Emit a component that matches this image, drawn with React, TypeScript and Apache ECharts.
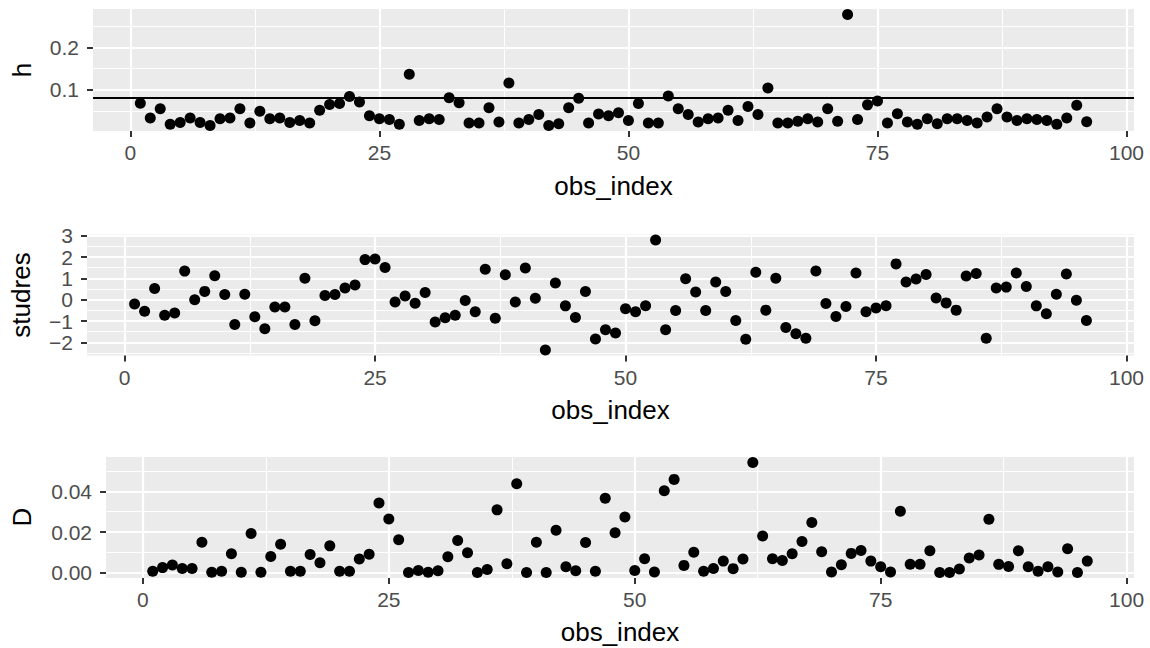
import React, { useEffect, useRef } from "react";
import * as echarts from "echarts";

const hValues = [
  0.068, 0.033, 0.055, 0.018, 0.022, 0.033, 0.022, 0.015, 0.031, 0.033,
  0.055, 0.021, 0.049, 0.031, 0.033, 0.022, 0.027, 0.021, 0.051, 0.065,
  0.067, 0.084, 0.071, 0.038, 0.031, 0.029, 0.018, 0.137, 0.027, 0.031,
  0.029, 0.081, 0.069, 0.021, 0.021, 0.057, 0.023, 0.116, 0.021, 0.029,
  0.041, 0.015, 0.019, 0.057, 0.080, 0.021, 0.042, 0.038, 0.045, 0.027,
  0.067, 0.021, 0.021, 0.085, 0.055, 0.041, 0.023, 0.031, 0.033, 0.051,
  0.027, 0.060, 0.041, 0.104, 0.021, 0.021, 0.025, 0.031, 0.023, 0.055,
  0.025, 0.279, 0.029, 0.064, 0.073, 0.021, 0.043, 0.023, 0.018, 0.031,
  0.019, 0.031, 0.031, 0.027, 0.021, 0.035, 0.055, 0.035, 0.027, 0.031,
  0.029, 0.027, 0.018, 0.033, 0.063, 0.024,
];

const studresValues = [
  -0.2, -0.54, 0.52, -0.73, -0.62, 1.34, 0.0, 0.39, 1.12, 0.24,
  -1.16, 0.25, -0.8, -1.36, -0.34, -0.34, -1.16, 1.01, -0.99, 0.2,
  0.24, 0.55, 0.69, 1.88, 1.91, 1.51, -0.11, 0.17, -0.17, 0.34,
  -1.05, -0.85, -0.73, -0.04, -0.57, 1.43, -0.87, 1.17, -0.11, 1.49,
  0.07, -2.36, 0.78, -0.29, -0.84, 0.38, -1.84, -1.41, -1.56, -0.42,
  -0.57, -0.28, 2.8, -1.41, -0.51, 0.98, 0.36, -0.51, 0.83, 0.38,
  -0.98, -1.86, 1.29, -0.49, 1.01, -1.3, -1.6, -1.81, 1.35, -0.18,
  -0.79, -0.32, 1.25, -0.57, -0.39, -0.28, 1.68, 0.83, 0.97, 1.18,
  0.08, -0.15, -0.49, 1.11, 1.23, -1.81, 0.55, 0.59, 1.25, 0.62,
  -0.29, -0.66, 0.25, 1.21, -0.03, -0.98,
];

const dValues = [
  0.0007, 0.0025, 0.0038, 0.0021, 0.0021, 0.015, 0.0002, 0.0007, 0.0093, 0.0002,
  0.0193, 0.0002, 0.008, 0.014, 0.0007, 0.0007, 0.009, 0.0049, 0.0132, 0.0007,
  0.0007, 0.0067, 0.0091, 0.0343, 0.0264, 0.0162, 0.0001, 0.0011, 0.0002, 0.001,
  0.0078, 0.0158, 0.0098, 0.0001, 0.0016, 0.0309, 0.0044, 0.0438, 0.0001, 0.015,
  0.0001, 0.0209, 0.0029, 0.001, 0.0149, 0.0007, 0.0366, 0.0196, 0.0274, 0.0011,
  0.0069, 0.0003, 0.0403, 0.0459, 0.0036, 0.0101, 0.0007, 0.0021, 0.0057, 0.002,
  0.0067, 0.0542, 0.018, 0.0069, 0.006, 0.0093, 0.0153, 0.0247, 0.0103, 0.0003,
  0.0039, 0.0095, 0.0109, 0.0057, 0.0029, 0.0003, 0.0302, 0.0042, 0.0042, 0.0108,
  0.0001, 0.0001, 0.0018, 0.0072, 0.0087, 0.0263, 0.0041, 0.0031, 0.0108, 0.0029,
  0.0007, 0.0029, 0.0003, 0.0118, 0.0001, 0.0057,
];

const obsIndex = hValues.map((_, i) => i + 1);

const xTicks = [0, 25, 50, 75, 100];
const xMinor = [12.5, 37.5, 62.5, 87.5];
const hTicks = [0.1, 0.2];
const hMinor = [0.05, 0.15, 0.25];
const sTicks = [-2, -1, 0, 1, 2, 3];
const sMinor = [-2.5, -1.5, -0.5, 0.5, 1.5, 2.5];
const dTicks = [0, 0.02, 0.04];
const dMinor = [0.01, 0.03, 0.05];
const hCutoff = 0.0833;

const xTitle = "obs_index";
const yTitles = ["h", "studres", "D"];

const FONT = "Liberation Sans, Arial, Helvetica, sans-serif";

function expand(vals: number[]): [number, number] {
  const mn = Math.min(...vals);
  const mx = Math.max(...vals);
  const r = mx - mn;
  return [mn - 0.05 * r, mx + 0.05 * r];
}

export default function App() {
  const ref = useRef<HTMLDivElement>(null);

  useEffect(() => {
    if (!ref.current) return;
    const chart = echarts.init(ref.current, null, { renderer: "svg" });

    const grids = [
      { left: 93, top: 9, width: 1041, height: 122 },
      { left: 87, top: 234.5, width: 1047, height: 121 },
      { left: 106, top: 457, width: 1028, height: 121 },
    ];
    const panels = [
      { vals: hValues, ticks: hTicks, minor: hMinor, fmt: (v: number) => v.toFixed(1) },
      {
        vals: studresValues,
        ticks: sTicks,
        minor: sMinor,
        fmt: (v: number) => (v < 0 ? "\u2212" + Math.abs(v) : String(v)),
      },
      { vals: dValues, ticks: dTicks, minor: dMinor, fmt: (v: number) => v.toFixed(2) },
    ];
    const xr = expand(obsIndex);

    const xAxis: any[] = [];
    const yAxis: any[] = [];
    const series: any[] = [];

    panels.forEach((p, i) => {
      const yr = expand(p.vals);
      xAxis.push({
        type: "value",
        gridIndex: i,
        position: "bottom",
        min: xr[0],
        max: xr[1],
        axisLine: { show: false, onZero: false },
        axisTick: {
          show: true,
          length: 6,
          customValues: xTicks,
          lineStyle: { color: "#333333", width: 2 },
        },
        axisLabel: {
          customValues: xTicks,
          color: "#4D4D4D",
          fontSize: 21,
          fontFamily: FONT,
          margin: 11,
        },
        splitLine: { show: true, lineStyle: { color: "#FFFFFF", width: 2.2 } },
      });
      xAxis.push({
        type: "value",
        gridIndex: i,
        position: "bottom",
        min: xr[0],
        max: xr[1],
        axisLine: { show: false, onZero: false },
        axisTick: { show: false, customValues: xMinor },
        axisLabel: { show: false, customValues: xMinor },
        splitLine: { show: true, lineStyle: { color: "#FFFFFF", width: 1.1 } },
      });
      yAxis.push({
        type: "value",
        gridIndex: i,
        position: "left",
        min: yr[0],
        max: yr[1],
        axisLine: { show: false, onZero: false },
        axisTick: {
          show: true,
          length: 6,
          customValues: p.ticks,
          lineStyle: { color: "#333333", width: 2 },
        },
        axisLabel: {
          customValues: p.ticks,
          color: "#4D4D4D",
          fontSize: 21,
          fontFamily: FONT,
          margin: 14,
          formatter: p.fmt,
        },
        splitLine: { show: true, lineStyle: { color: "#FFFFFF", width: 2.2 } },
      });
      yAxis.push({
        type: "value",
        gridIndex: i,
        position: "left",
        min: yr[0],
        max: yr[1],
        axisLine: { show: false, onZero: false },
        axisTick: { show: false, customValues: p.minor },
        axisLabel: { show: false, customValues: p.minor },
        splitLine: { show: true, lineStyle: { color: "#FFFFFF", width: 1.1 } },
      });
      const s: any = {
        type: "scatter",
        xAxisIndex: 2 * i,
        yAxisIndex: 2 * i,
        symbol: "circle",
        symbolSize: 11,
        itemStyle: { color: "#000000", opacity: 1 },
        data: p.vals.map((v, k) => [obsIndex[k], v]),
        z: 3,
      };
      if (i === 0) {
        s.markLine = {
          silent: true,
          symbol: ["none", "none"],
          label: { show: false },
          lineStyle: { color: "#000000", width: 2.2, type: "solid" },
          data: [{ yAxis: hCutoff }],
        };
      }
      series.push(s);
    });

    const graphic: any[] = [];
    const yTitlePos = [
      [22, 70],
      [21, 295],
      [22, 517],
    ];
    yTitles.forEach((t, i) => {
      graphic.push({
        type: "text",
        x: yTitlePos[i][0],
        y: yTitlePos[i][1],
        rotation: Math.PI / 2,
        style: {
          text: t,
          fill: "#000000",
          font: `26px ${FONT}`,
          textAlign: "center",
          textVerticalAlign: "middle",
        },
      });
    });
    const xTitleY = [186, 410, 632];
    grids.forEach((g, i) => {
      graphic.push({
        type: "text",
        x: g.left + g.width / 2,
        y: xTitleY[i],
        style: {
          text: xTitle,
          fill: "#000000",
          font: `26px ${FONT}`,
          textAlign: "center",
          textVerticalAlign: "middle",
        },
      });
    });

    chart.setOption({
      animation: false,
      backgroundColor: "#FFFFFF",
      grid: grids.map((g) => ({
        ...g,
        show: true,
        backgroundColor: "#EBEBEB",
        borderWidth: 0,
        containLabel: false,
      })),
      xAxis,
      yAxis,
      series,
      graphic,
    });

    return () => chart.dispose();
  }, []);

  return (
    <div
      ref={ref}
      style={{ position: "fixed", left: 0, top: 0, width: 1150, height: 648, background: "#fff" }}
    />
  );
}
